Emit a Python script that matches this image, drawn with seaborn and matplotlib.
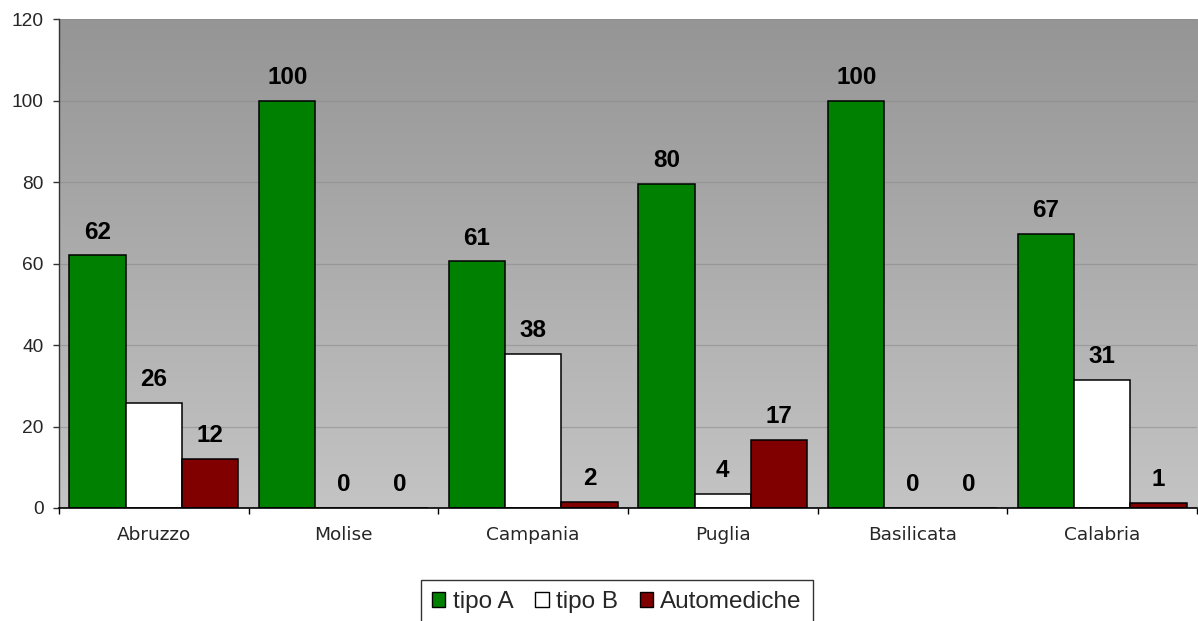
import numpy as np
import pandas as pd
import matplotlib
matplotlib.use("Agg")
import matplotlib.pyplot as plt
import seaborn as sns
from matplotlib.colors import LinearSegmentedColormap
from matplotlib.patches import Patch

# data (percentages)
regioni = ['Abruzzo', 'Molise', 'Campania', 'Puglia', 'Basilicata', 'Calabria']
tipo_a = [62.1, 100, 60.6, 79.7, 100, 67.4]
tipo_b = [25.8, 0, 37.9, 3.5, 0, 31.4]
automediche = [12.1, 0, 1.5, 16.8, 0, 1.2]
serie = ['tipo A', 'tipo B', 'Automediche']
colori = ['#008000', '#ffffff', '#800000']

df = pd.DataFrame({
    'regione': regioni * 3,
    'serie': [s for s in serie for _ in regioni],
    'valore': tipo_a + tipo_b + automediche,
})

sns.set_style('white')
plt.rcParams['font.family'] = ['Liberation Sans', 'DejaVu Sans']

fig = plt.figure(figsize=(11.98, 6.21), dpi=100)
ax = fig.add_axes([0.0492, 0.182, 0.9500, 0.7866])

# grey gradient background like the original Excel chart
cmap = LinearSegmentedColormap.from_list('bg', ['#959595', '#c4c4c4'])
ax.imshow(np.linspace(0, 1, 256).reshape(-1, 1), cmap=cmap, aspect='auto',
          extent=[0, 1, 0, 1], transform=ax.transAxes, zorder=0)

sns.barplot(data=df, x='regione', y='valore', hue='serie', hue_order=serie,
            palette=colori, width=0.89, edgecolor='black', linewidth=1.1,
            saturation=1, ax=ax, legend=False, zorder=2)

# value labels on top of bars
for cont in ax.containers:
    for rect in cont:
        h = rect.get_height()
        ax.annotate(f'{h:.0f}', (rect.get_x() + rect.get_width() / 2, h),
                    xytext=(0, 12), textcoords='offset points',
                    ha='center', va='baseline', fontsize=17.5,
                    fontweight='bold', color='black', zorder=5)

ax.set_xlim(-0.5, 5.5)
ax.set_ylim(0, 120)
ax.set_yticks(range(0, 121, 20))
ax.set_xlabel('')
ax.set_ylabel('')

ax.set_axisbelow(True)
ax.yaxis.grid(True, color='#8c8c8c', linewidth=0.9, alpha=0.6)
ax.xaxis.grid(False)

for s in ['top', 'right']:
    ax.spines[s].set_visible(False)
ax.spines['left'].set_color('#333333')
ax.spines['bottom'].set_color('black')
ax.spines['left'].set_linewidth(1)
ax.spines['bottom'].set_linewidth(1.2)

ax.tick_params(axis='y', direction='out', length=4, width=1, color='#333333',
               pad=7, labelsize=13.8, left=True)
ax.set_xticks(np.arange(-0.5, 6, 1), minor=True)
ax.tick_params(axis='x', which='minor', direction='out', length=4, width=1,
               color='black', bottom=True)
ax.tick_params(axis='x', which='major', length=0, pad=13)
for lbl in ax.get_xticklabels():
    lbl.set_fontfamily('DejaVu Sans')
    lbl.set_fontsize(13.3)

handles = [Patch(facecolor=c, edgecolor='black', linewidth=1) for c in colori]
leg = fig.legend(handles, serie, loc='upper center', ncol=3,
                 bbox_to_anchor=(617 / 1198, 1 - 580 / 621),
                 fontsize=17.5, frameon=True, fancybox=False,
                 handlelength=0.55, handleheight=0.55, handletextpad=0.3,
                 columnspacing=0.9, borderpad=0.45, borderaxespad=0)
leg.get_frame().set_edgecolor('black')
leg.get_frame().set_linewidth(1)

fig.savefig('out.png', dpi=100)
